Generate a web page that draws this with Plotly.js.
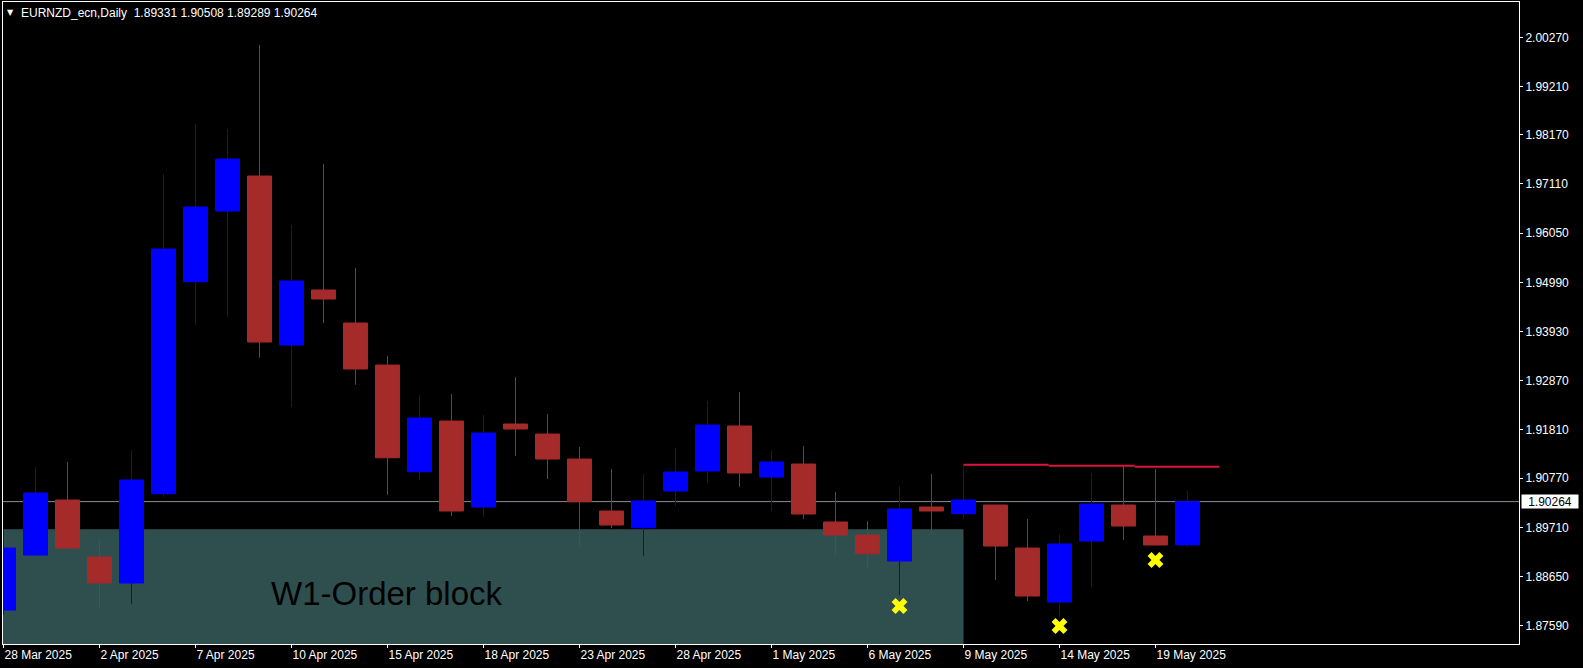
<!DOCTYPE html>
<html><head><meta charset="utf-8">
<script src="https://cdn.plot.ly/plotly-3.0.1.min.js"></script>
<style>html,body{margin:0;padding:0;background:#000;overflow:hidden}#chart{width:1583px;height:668px}</style>
</head><body><div id="chart"></div>
<script>
// ---- data ----
const symbolName = 'EURNZD_ecn';
const timeframe = 'Daily';
const dates = ['28 Mar 2025','31 Mar 2025','1 Apr 2025','2 Apr 2025','3 Apr 2025','4 Apr 2025','7 Apr 2025','8 Apr 2025','9 Apr 2025','10 Apr 2025','11 Apr 2025','14 Apr 2025','15 Apr 2025','16 Apr 2025','17 Apr 2025','18 Apr 2025','21 Apr 2025','22 Apr 2025','23 Apr 2025','24 Apr 2025','25 Apr 2025','28 Apr 2025','29 Apr 2025','30 Apr 2025','1 May 2025','2 May 2025','5 May 2025','6 May 2025','7 May 2025','8 May 2025','9 May 2025','12 May 2025','13 May 2025','14 May 2025','15 May 2025','16 May 2025','19 May 2025','20 May 2025'];
const openP  = [1.87927,1.89112,1.90298,1.89069,1.88509,1.90434,1.95003,1.96526,1.97281,1.93638,1.94824,1.94113,1.93207,1.90908,1.92000,1.90147,1.91936,1.91720,1.91181,1.90061,1.89701,1.90492,1.90923,1.91893,1.90793,1.91074,1.89824,1.89544,1.88983,1.90147,1.90003,1.90190,1.89263,1.88099,1.89414,1.90190,1.89522,1.89331];
const highP  = [1.89673,1.91009,1.91117,1.89436,1.91375,1.97324,1.98401,1.98294,2.00104,1.96225,1.97539,1.95298,1.93401,1.92561,1.92582,1.92130,1.92949,1.92151,1.91440,1.90966,1.90858,1.91419,1.92431,1.92625,1.91375,1.91462,1.90470,1.89845,1.90600,1.90858,1.91052,1.90190,1.89888,1.89565,1.90880,1.91031,1.90966,1.90508];
const lowP   = [1.87819,1.89100,1.89250,1.87977,1.88056,1.90369,1.94076,1.94248,1.93365,1.92302,1.94113,1.92783,1.90406,1.90729,1.89953,1.89931,1.91246,1.90750,1.89285,1.89694,1.89091,1.90169,1.90664,1.90578,1.90061,1.89888,1.89091,1.88832,1.88250,1.89565,1.89882,1.88574,1.88121,1.87776,1.88423,1.89436,1.89320,1.89289];
const closeP = [1.89263,1.90449,1.89263,1.88509,1.90729,1.95707,1.96613,1.97647,1.93703,1.95018,1.94630,1.93121,1.91209,1.92065,1.90061,1.91742,1.91828,1.91181,1.90261,1.89759,1.90276,1.90901,1.91914,1.90880,1.91117,1.89996,1.89544,1.89140,1.90104,1.90061,1.90298,1.89306,1.88229,1.89350,1.90212,1.89737,1.89328,1.90264];
const xTickLabels = ['28 Mar 2025','2 Apr 2025','7 Apr 2025','10 Apr 2025','15 Apr 2025','18 Apr 2025','23 Apr 2025','28 Apr 2025','1 May 2025','6 May 2025','9 May 2025','14 May 2025','19 May 2025'];
const yTickVals = [2.00270,1.99210,1.98170,1.97110,1.96050,1.94990,1.93930,1.92870,1.91810,1.90770,1.89710,1.88650,1.87590];
// resistance levels (bar index start/end, price)
const levelStart = [30, 32.66, 35.35];
const levelEnd   = [32.66, 35.35, 38.0];
const levelPrice = [1.91059, 1.91037, 1.91016];
// signal crosses
const signalIdx   = [28, 33, 36];
const signalPrice = [1.88013, 1.87582, 1.89005];
// order block zone
const obStartIdx = -3, obEndIdx = 30, obTop = 1.89667, obBottom = 1.85;
const obLabel = 'W1-Order block';

// ---- build ----
const idx = dates.map((d, i) => i);
const n = closeP.length;
const tickVals = xTickLabels.map(t => dates.indexOf(t));
const FONT = 'Liberation Sans, Arial, sans-serif';

const traces = [{
  type: 'candlestick', x: idx, open: openP, high: highP, low: lowP, close: closeP,
  increasing: {line: {color: '#0000FF', width: 1}, fillcolor: '#0000FF'},
  decreasing: {line: {color: '#A52A2A', width: 1}, fillcolor: '#A52A2A'},
  whiskerwidth: 0, hoverinfo: 'none', showlegend: false
}];
levelPrice.forEach((p, i) => traces.push({
  type: 'scatter', mode: 'lines', x: [levelStart[i], levelEnd[i]], y: [p, p],
  line: {color: '#DC143C', width: 2}, hoverinfo: 'none', showlegend: false
}));
traces.push({
  type: 'scatter', mode: 'markers', x: signalIdx, y: signalPrice,
  marker: {symbol: 'x', size: 14, color: '#FFFF00', line: {width: 0}},
  hoverinfo: 'none', showlegend: false
});

const last = n - 1;
const titleText = symbolName + ',' + timeframe + '\u00A0\u00A0' +
  [openP[last], highP[last], lowP[last], closeP[last]].map(v => v.toFixed(5)).join(' ');

const layout = {
  width: 1583, height: 668,
  margin: {l: 3, r: 64, t: 2, b: 24, pad: 0},
  paper_bgcolor: '#000000', plot_bgcolor: '#000000',
  font: {family: FONT, size: 12, color: '#FFFFFF'},
  showlegend: false, hovermode: false, dragmode: false,
  boxgap: 0.25, boxgroupgap: 0,
  xaxis: {
    type: 'linear', range: [-0.0156, 47.36], rangeslider: {visible: false},
    showgrid: false, zeroline: false, showline: true, mirror: true,
    linecolor: '#FFFFFF', linewidth: 1,
    ticks: 'outside', ticklen: 3, tickcolor: '#FFFFFF', tickwidth: 1,
    tickvals: tickVals, ticktext: xTickLabels, ticklabelposition: 'outside right',
    tickfont: {family: FONT, size: 12, color: '#FFFFFF'}
  },
  yaxis: {
    side: 'right', range: [1.87195, 2.01031],
    showgrid: false, zeroline: false, showline: true, mirror: true,
    linecolor: '#FFFFFF', linewidth: 1,
    ticks: 'outside', ticklen: 3, tickcolor: '#FFFFFF', tickwidth: 1,
    tickvals: yTickVals, ticktext: yTickVals.map(v => v.toFixed(5)),
    tickfont: {family: FONT, size: 12, color: '#FFFFFF'}
  },
  shapes: [
    {type: 'rect', layer: 'below', xref: 'x', yref: 'y', x0: obStartIdx, x1: obEndIdx, y0: obBottom, y1: obTop,
     fillcolor: '#2F4F4F', line: {width: 0}},
    {type: 'line', layer: 'below', xref: 'paper', yref: 'y', x0: 0, x1: 1, y0: closeP[last], y1: closeP[last],
     line: {color: '#8C8C9A', width: 1}}
  ],
  annotations: [
    {xref: 'paper', yref: 'paper', x: 0, y: 1, xanchor: 'left', yanchor: 'top', xshift: 2, yshift: -4,
     text: '\u25BC', showarrow: false, font: {family: 'DejaVu Sans', size: 8, color: '#FFFFFF'}},
    {xref: 'paper', yref: 'paper', x: 0, y: 1, xanchor: 'left', yanchor: 'top', xshift: 16, yshift: -2,
     text: titleText, showarrow: false, font: {family: FONT, size: 12, color: '#FFFFFF'}},
    {xref: 'x', yref: 'y', x: 12, y: 1.88294, xanchor: 'center', yanchor: 'middle',
     text: obLabel, showarrow: false, font: {family: FONT, size: 33, color: '#000000'}},
    {xref: 'paper', yref: 'y', x: 1, y: closeP[last], xanchor: 'left', yanchor: 'middle', xshift: 2,
     text: closeP[last].toFixed(5), showarrow: false, bgcolor: '#FFFFFF', borderpad: 0,
     width: 56, height: 13, font: {family: FONT, size: 12, color: '#000000'}}
  ]
};

Plotly.newPlot('chart', traces, layout, {displayModeBar: false, staticPlot: true});
</script>
</body></html>
